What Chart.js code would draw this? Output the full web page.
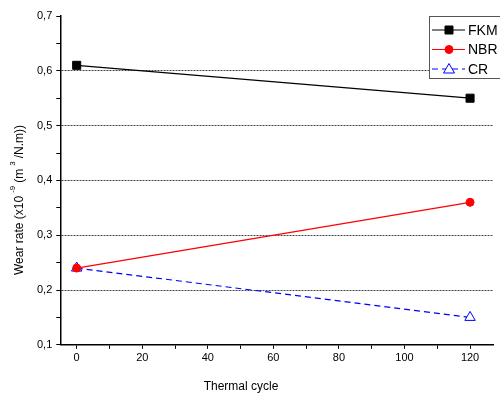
<!DOCTYPE html>
<html>
<head>
<meta charset="utf-8">
<script src="https://cdn.jsdelivr.net/npm/chart.js@4"></script>
<style>
  html, body { margin: 0; padding: 0; background: #fff; }
  #wrap { width: 500px; height: 396px; }
</style>
</head>
<body>
<div id="wrap"><canvas id="wear-chart"></canvas></div>
<script>
// данные с графика
const cycles = [0, 120];
const fkmWear = [0.61, 0.55];
const nbrWear = [0.24, 0.36];
const crWear = [0.24, 0.15];

const xTicks = [0, 10, 20, 30, 40, 50, 60, 70, 80, 90, 100, 110, 120];
const yTicks = [0.1, 0.15, 0.2, 0.25, 0.3, 0.35, 0.4, 0.45, 0.5, 0.55, 0.6, 0.65, 0.7];

const FONT = '"Liberation Sans", Arial, sans-serif';

function toPoints(values) {
  return cycles.map((c, i) => ({ x: c, y: values[i] }));
}

// подписи осей и легенда рисуются вручную
const extrasPlugin = {
  id: 'extras',
  afterDraw(chart) {
    const ctx = chart.ctx;
    ctx.save();
    ctx.fillStyle = '#000';
    ctx.textBaseline = 'alphabetic';

    // x title
    ctx.font = '12px ' + FONT;
    ctx.textAlign = 'center';
    ctx.fillText('Thermal cycle', 241, 390);

    // y title with superscripts
    ctx.translate(23, 200);
    ctx.rotate(-Math.PI / 2);
    const parts = [
      ['Wear rate (x10', false], ['-9', true], ['(m', false], ['3', true], ['/N.m))', false]
    ];
    let total = 0;
    parts.forEach(p => {
      ctx.font = (p[1] ? '8px ' : '12px ') + FONT;
      total += ctx.measureText(p[0]).width + (p[1] ? 6 : 0);
    });
    let px = -total / 2;
    ctx.textAlign = 'left';
    parts.forEach(p => {
      ctx.font = (p[1] ? '8px ' : '12px ') + FONT;
      if (p[1]) px += 3;
      ctx.fillText(p[0], px, p[1] ? -8 : 0);
      px += ctx.measureText(p[0]).width + (p[1] ? 3 : 0);
    });
    ctx.restore();

    // legend box
    ctx.save();
    const bx = 429, by = 16, bw = 75, bh = 62;
    ctx.fillStyle = '#fff';
    ctx.fillRect(bx, by, bw, bh);
    ctx.strokeStyle = '#555';
    ctx.lineWidth = 1;
    ctx.strokeRect(bx + 0.5, by + 0.5, bw, bh);
    chart.data.datasets.forEach((ds, i) => {
      const y = 30 + i * 19.5;
      ctx.strokeStyle = ds.borderColor;
      ctx.lineWidth = 1.2;
      ctx.setLineDash(ds.borderDash || []);
      ctx.beginPath();
      ctx.moveTo(432, y);
      ctx.lineTo(465, y);
      ctx.stroke();
      ctx.setLineDash([]);
      ctx.fillStyle = ds.pointBackgroundColor;
      ctx.strokeStyle = ds.pointBorderColor;
      ctx.lineWidth = ds.pointBorderWidth || 1;
      ctx.beginPath();
      if (ds.pointStyle === 'rect') {
        const s = 8;
        ctx.rect(449 - s / 2, y - s / 2, s, s);
      } else if (ds.pointStyle === 'circle') {
        ctx.arc(449, y, 4, 0, Math.PI * 2);
      } else {
        ctx.moveTo(449, y - 5.5);
        ctx.lineTo(454.5, y + 4);
        ctx.lineTo(443.5, y + 4);
        ctx.closePath();
      }
      ctx.fill();
      ctx.stroke();
      ctx.fillStyle = '#000';
      ctx.font = '14px ' + FONT;
      ctx.textAlign = 'left';
      ctx.textBaseline = 'middle';
      ctx.fillText(ds.label, 468, y + 1);
    });
    ctx.restore();
  }
};

new Chart(document.getElementById('wear-chart'), {
  type: 'line',
  data: {
    datasets: [{
      label: 'FKM',
      data: toPoints(fkmWear),
      borderColor: '#000',
      borderWidth: 1.2,
      pointStyle: 'rect',
      pointRadius: 5.7,
      pointBackgroundColor: '#000',
      pointBorderColor: '#000',
      pointBorderWidth: 1
    }, {
      label: 'NBR',
      data: toPoints(nbrWear),
      borderColor: '#ff0000',
      borderWidth: 1.2,
      pointStyle: 'circle',
      pointRadius: 4,
      pointBackgroundColor: '#ff0000',
      pointBorderColor: '#ff0000',
      pointBorderWidth: 1
    }, {
      label: 'CR',
      data: toPoints(crWear),
      borderColor: '#0000ff',
      borderWidth: 1.2,
      borderDash: [6, 4],
      pointStyle: 'triangle',
      pointRadius: 6,
      pointBackgroundColor: '#fff',
      pointBorderColor: '#0000ff',
      pointBorderWidth: 1
    }]
  },
  options: {
    responsive: true,
    maintainAspectRatio: false,
    animation: false,
    layout: { padding: { left: 33, right: 0, top: 16, bottom: 28 } },
    plugins: {
      legend: { display: false },
      tooltip: { enabled: false }
    },
    scales: {
      x: {
        type: 'linear',
        min: -5,
        max: 127,
        afterBuildTicks: axis => { axis.ticks = xTicks.map(v => ({ value: v })); },
        ticks: {
          autoSkip: false,
          maxRotation: 0,
          color: '#000',
          font: { family: FONT, size: 11 },
          padding: 3,
          callback: v => (v % 20 === 0 ? String(v) : '')
        },
        grid: {
          drawOnChartArea: false,
          drawTicks: true,
          tickLength: 4,
          tickColor: '#000',
          tickWidth: 1
        },
        border: { color: '#000', width: 1.5 }
      },
      y: {
        min: 0.1,
        max: 0.7,
        afterBuildTicks: axis => { axis.ticks = yTicks.map(v => ({ value: v })); },
        ticks: {
          autoSkip: false,
          color: '#000',
          font: { family: FONT, size: 11 },
          padding: 4,
          callback: v => {
            const r = Math.round(v * 100);
            return r % 10 === 0 ? (r / 100).toFixed(1).replace('.', ',') : '';
          }
        },
        grid: {
          drawOnChartArea: true,
          tickLength: 4,
          tickColor: '#000',
          tickWidth: 1,
          lineWidth: 1,
          color: c => {
            const r = Math.round(c.tick.value * 100);
            return (r % 10 === 0 && r > 10 && r < 70) ? '#444' : 'transparent';
          }
        },
        border: { color: '#000', width: 1.5, dash: [2, 1] }
      }
    }
  },
  plugins: [extrasPlugin]
});
</script>
</body>
</html>
